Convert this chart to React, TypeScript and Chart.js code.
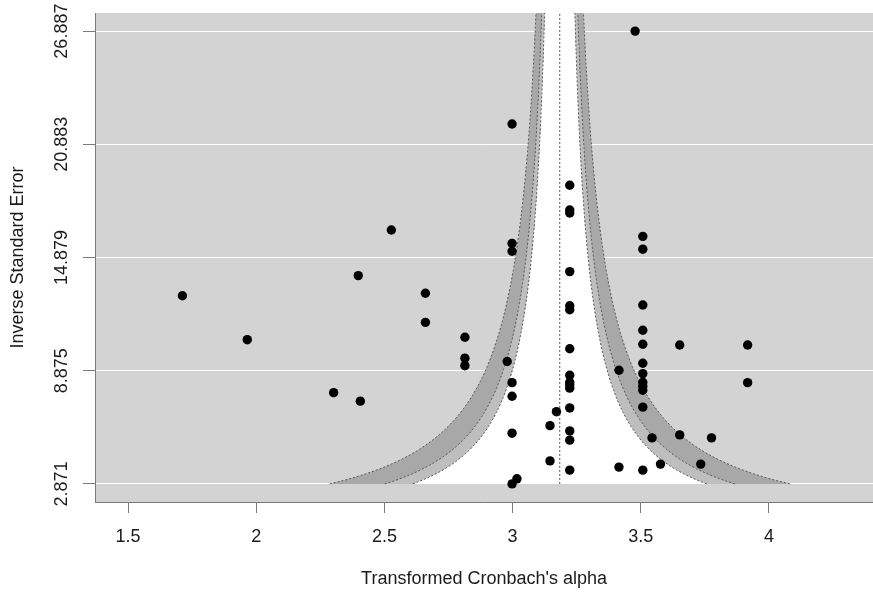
import React, { useEffect, useRef } from "react";
import { Chart, registerables } from "chart.js";

Chart.register(...registerables);

// ---- data ----
const xTickValues = [1.5, 2, 2.5, 3, 3.5, 4];
const yTickValues = [2.871, 8.875, 14.879, 20.883, 26.887];

const effectSizes = [
  1.712, 1.965, 2.302, 2.406, 2.398, 2.527, 2.66, 2.66, 2.814, 2.814,
  2.814, 2.979, 2.998, 2.998, 2.998, 2.998, 2.998, 2.998, 2.998, 3.017,
  3.146, 3.146, 3.171, 3.223, 3.223, 3.223, 3.223, 3.223, 3.223, 3.223,
  3.223, 3.223, 3.223, 3.223, 3.223, 3.223, 3.223, 3.223, 3.415, 3.415,
  3.478, 3.508, 3.508, 3.508, 3.508, 3.508, 3.508, 3.508, 3.508, 3.508,
  3.508, 3.508, 3.508, 3.544, 3.577, 3.652, 3.652, 3.734, 3.776, 3.917,
  3.917,
];
const inversePrecision = [
  12.85, 10.52, 7.71, 7.26, 13.92, 16.34, 12.98, 11.44, 10.65, 9.54,
  9.14, 9.36, 21.96, 15.63, 15.21, 8.24, 7.52, 5.56, 2.871, 3.14,
  5.96, 4.09, 6.7, 18.71, 17.4, 17.24, 14.13, 12.32, 12.11, 10.04,
  8.63, 8.26, 8.12, 7.95, 6.9, 5.68, 5.19, 3.6, 8.9, 3.76,
  26.887, 16.0, 15.32, 12.36, 11.02, 10.28, 9.27, 8.72, 8.26, 8.05,
  7.84, 6.94, 3.6, 5.31, 3.92, 10.24, 5.47, 3.92, 5.31, 10.24,
  8.24,
];

const pooledEstimate = 3.184;
const contourLevels = [2.576, 1.96, 1.645]; // 99%, 95%, 90%
const contourFills = ["#a8a8a8", "#bebebe", "#ffffff"];

const FONT = "'Liberation Sans', Arial, Helvetica, sans-serif";
const FONT_SIZE = 18;

export default function App() {
  const canvasRef = useRef<HTMLCanvasElement | null>(null);

  useEffect(() => {
    if (!canvasRef.current) return;
    const yLow = yTickValues[0];
    const yHigh = 40;
    const ys: number[] = [];
    const steps = 160;
    for (let i = 0; i <= steps; i++) {
      ys.push(yLow * Math.pow(yHigh / yLow, i / steps));
    }
    const leftCurve = (z: number) => ys.map((y) => ({ x: pooledEstimate - z / y, y }));
    const rightCurve = (z: number) => ys.map((y) => ({ x: pooledEstimate + z / y, y }));

    const datasets: any[] = [];
    contourLevels.forEach((z, i) => {
      const poly = [...leftCurve(z), ...rightCurve(z).reverse()];
      datasets.push({
        data: poly,
        showLine: true,
        fill: "shape",
        backgroundColor: contourFills[i],
        borderWidth: 0,
        borderColor: "rgba(0,0,0,0)",
        pointRadius: 0,
        tension: 0,
        order: 5 - i,
      });
    });
    contourLevels.forEach((z) => {
      [leftCurve(z), rightCurve(z)].forEach((c) => {
        datasets.push({
          data: c,
          showLine: true,
          fill: false,
          borderColor: "#555555",
          borderWidth: 1,
          borderDash: [2, 2],
          pointRadius: 0,
          tension: 0,
          order: 2,
        });
      });
    });
    datasets.push({
      data: [
        { x: pooledEstimate, y: yLow },
        { x: pooledEstimate, y: yHigh },
      ],
      showLine: true,
      fill: false,
      borderColor: "#555555",
      borderWidth: 1,
      borderDash: [2, 2],
      pointRadius: 0,
      order: 1,
    });
    datasets.push({
      data: effectSizes.map((x, i) => ({ x, y: inversePrecision[i] })),
      showLine: false,
      pointRadius: 4.7,
      pointHoverRadius: 4.7,
      pointBackgroundColor: "#000000",
      pointBorderWidth: 0,
      order: 0,
    });

    const bgPlugin = {
      id: "plotBg",
      beforeDraw(chart: any) {
        const { ctx, chartArea } = chart;
        ctx.save();
        ctx.fillStyle = "#d3d3d3";
        ctx.fillRect(chartArea.left, chartArea.top, chartArea.right - chartArea.left, chartArea.bottom - chartArea.top);
        ctx.restore();
      },
    };
    const yLabelPlugin = {
      id: "yRotLabels",
      afterDraw(chart: any) {
        const { ctx } = chart;
        const ys = chart.scales.y;
        ctx.save();
        ctx.fillStyle = "#1a1a1a";
        ctx.font = `${FONT_SIZE}px ${FONT}`;
        ctx.textAlign = "center";
        ctx.textBaseline = "middle";
        yTickValues.forEach((v) => {
          const py = ys.getPixelForValue(v);
          ctx.save();
          ctx.translate(62, py);
          ctx.rotate(-Math.PI / 2);
          ctx.fillText(String(v), 0, 0);
          ctx.restore();
        });
        ctx.restore();
      },
    };

    const chart = new Chart(canvasRef.current, {
      type: "line",
      data: { datasets },
      plugins: [bgPlugin, yLabelPlugin],
      options: {
        animation: false,
        responsive: true,
        maintainAspectRatio: false,
        layout: { autoPadding: false, padding: { top: 13, left: 0, right: 0, bottom: 0 } },
        plugins: { legend: { display: false }, tooltip: { enabled: false } },
        elements: { line: { tension: 0 } },
        scales: {
          x: {
            type: "linear",
            min: 1.371,
            max: 4.406,
            afterBuildTicks: (s: any) => {
              s.ticks = xTickValues.map((v) => ({ value: v }));
            },
            afterFit: (s: any) => {
              s.height = 92;
              s.paddingLeft = 0;
              s.paddingRight = 0;
            },
            grid: {
              drawOnChartArea: false,
              drawTicks: true,
              tickLength: 11,
              tickColor: "#7a7a7a",
            },
            border: { display: true, color: "#7a7a7a", width: 1 },
            ticks: {
              color: "#1a1a1a",
              font: { family: FONT, size: FONT_SIZE },
              padding: 13,
              maxRotation: 0,
              autoSkip: false,
              callback: (v: any) => String(v),
            },
            title: {
              display: true,
              text: "Transformed Cronbach's alpha",
              color: "#1a1a1a",
              font: { family: FONT, size: FONT_SIZE },
              padding: { top: 0, bottom: 4 },
            },
          },
          y: {
            type: "linear",
            min: 1.91,
            max: 27.848,
            afterBuildTicks: (s: any) => {
              s.ticks = yTickValues.map((v) => ({ value: v }));
            },
            afterFit: (s: any) => {
              s.width = 95;
              s.paddingTop = 0;
              s.paddingBottom = 0;
            },
            grid: {
              color: "#ffffff",
              lineWidth: 1,
              drawTicks: true,
              tickLength: 12,
              tickColor: "#7a7a7a",
            },
            border: { display: true, color: "#7a7a7a", width: 1 },
            ticks: { display: false },
            title: {
              display: true,
              text: "Inverse Standard Error",
              color: "#1a1a1a",
              font: { family: FONT, size: FONT_SIZE },
              padding: { top: 7, bottom: 0 },
            },
          },
        },
      } as any,
    });
    return () => chart.destroy();
  }, []);

  return (
    <div style={{ position: "fixed", left: 0, top: 0, width: 873, height: 594, background: "#ffffff" }}>
      <canvas ref={canvasRef} />
    </div>
  );
}
